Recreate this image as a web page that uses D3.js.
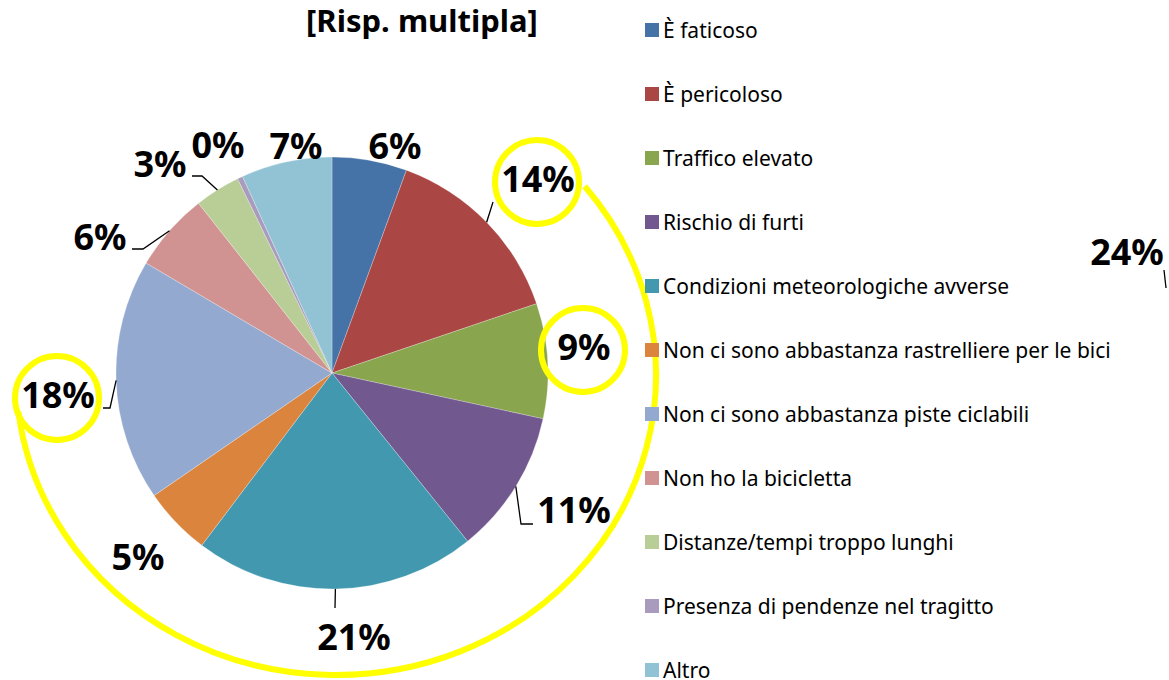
<!DOCTYPE html>
<html>
<head>
<meta charset="utf-8">
<script src="https://cdn.jsdelivr.net/npm/d3@7"></script>
<style>
  body { margin: 0; background: #fff; }
  svg { display: block; font-family: "Noto Sans", sans-serif; }
</style>
</head>
<body>
<svg id="chart"></svg>
<script>
// categories and shares (%), clockwise from 12 o'clock
const categories = [
  "È faticoso",
  "È pericoloso",
  "Traffico elevato",
  "Rischio di furti",
  "Condizioni meteorologiche avverse",
  "Non ci sono abbastanza rastrelliere per le bici",
  "Non ci sono abbastanza piste ciclabili",
  "Non ho la bicicletta",
  "Distanze/tempi troppo lunghi",
  "Presenza di pendenze nel tragitto",
  "Altro"
]
const values = [5.6, 14.2, 8.6, 10.8, 21.1, 5.1, 18.1, 5.9, 3.4, 0.4, 6.8]
const colors = ["#4572A7", "#AA4643", "#89A54E", "#71588F", "#4198AF", "#DB843D",
                "#93A9CF", "#D19392", "#B9CD96", "#A99BBD", "#92C3D5"]
const title = "[Risp. multipla]"
// slices whose labels are circled in yellow
const highlighted = [1, 2, 6]
// label of the neighbouring (cut off) chart
const otherLabel = "24%"

width = 1169
height = 680
cx = 332
cy = 373
radius = 216

// label placement relative to the pie centre (text centre x, baseline y)
labelPos = [[63, -214], [206, -181], [252, -13], [242, 150], [22, 277], [-194, 197],
            [-274, 35], [-232, -123], [-172, -196], [-114, -215], [-36, -214]]
// leader line bends (relative to pie centre), starting from the slice edge
leaders = {1: [[161, -171]], 3: [[189, 151], [201, 151]], 4: [[3, 235]],
           6: [[-222, 35], [-229, 35]], 7: [[-189, -124], [-200, -124]],
           8: [[-130, -197], [-140, -197]]}

const svg = d3.select("#chart")
    .attr("width", width)
    .attr("height", height)
    .attr("viewBox", [0, 0, width, height])

pie = d3.pie().sort(null).value(d => d)
arcs = pie(values)
arc = d3.arc().innerRadius(0).outerRadius(radius)
color = d3.scaleOrdinal().domain(categories).range(colors)
pct = d3.format(".0%")

const g = svg.append("g").attr("transform", `translate(${cx},${cy})`)

g.selectAll("path.slice")
  .data(arcs)
  .join("path")
    .attr("class", "slice")
    .attr("fill", (d, i) => color(categories[i]))
    .attr("stroke", "#fff")
    .attr("stroke-opacity", 0.5)
    .attr("stroke-width", 0.5)
    .attr("d", arc)

// leader lines
edge = d => {
  const a = (d.startAngle + d.endAngle) / 2
  return [Math.sin(a) * radius, -Math.cos(a) * radius]
}
Object.entries(leaders).forEach(([i, pts]) => {
  g.append("path")
    .attr("fill", "none")
    .attr("stroke", "#000")
    .attr("stroke-width", 1.3)
    .attr("d", d3.line()([edge(arcs[+i]), ...pts]))
})

g.selectAll("text.lbl")
  .data(arcs)
  .join("text")
    .attr("class", "lbl")
    .attr("x", (d, i) => labelPos[i][0])
    .attr("y", (d, i) => labelPos[i][1])
    .attr("text-anchor", "middle")
    .attr("font-size", 36)
    .attr("font-weight", "bold")
    .attr("fill", "#000")
    .text(d => pct(d.value / 100))

// yellow hand-drawn annotations
const yellow = "#FFFF00"
highlighted.forEach(i => {
  g.append("circle")
    .attr("cx", labelPos[i][0] - 1)
    .attr("cy", labelPos[i][1] - 10)
    .attr("r", 42)
    .attr("fill", "none")
    .attr("stroke", yellow)
    .attr("stroke-width", 6)
})
{
  const rx = 320, ry = 300, ox = 4, oy = 2
  const t0 = -39 * Math.PI / 180, t1 = 173 * Math.PI / 180
  const p = d => [ox + rx * Math.cos(d), oy + ry * Math.sin(d)]
  const [x0, y0] = p(t0), [x1, y1] = p(t1)
  g.append("path")
    .attr("fill", "none")
    .attr("stroke", yellow)
    .attr("stroke-width", 6)
    .attr("d", `M${x0},${y0} A${rx},${ry} 0 1 1 ${x1},${y1}`)
}

svg.append("text")
    .attr("x", 422)
    .attr("y", 32)
    .attr("text-anchor", "middle")
    .attr("font-size", 31)
    .attr("font-weight", "bold")
    .text(title)

// legend
const legend = svg.append("g")
  .selectAll("g")
  .data(categories)
  .join("g")
    .attr("transform", (d, i) => `translate(645,${30 + i * 64})`)
legend.append("rect")
    .attr("x", 0)
    .attr("y", -7)
    .attr("width", 14)
    .attr("height", 14)
    .attr("fill", d => color(d))
legend.append("text")
    .attr("x", 18)
    .attr("y", 7.5)
    .attr("font-size", 21)
    .attr("fill", "#000")
    .text(d => d)

// cut-off label from the next chart
svg.append("text")
    .attr("x", 1127)
    .attr("y", 265)
    .attr("text-anchor", "middle")
    .attr("font-size", 36)
    .attr("font-weight", "bold")
    .text(otherLabel)
svg.append("path")
    .attr("stroke", "#000")
    .attr("stroke-width", 1.3)
    .attr("d", "M1164,270L1166,288")
</script>
</body>
</html>
